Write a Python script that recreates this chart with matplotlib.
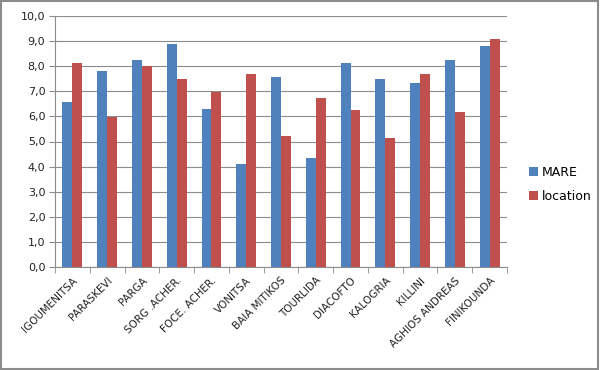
import matplotlib.pyplot as plt
import numpy as np
from matplotlib.patches import Rectangle

sites = ['IGOUMENITSA', 'PARASKEVI', 'PARGA', 'SORG .ACHER.', 'FOCE. ACHER.',
         'VONITSA', 'BAIA MITIKOS', 'TOURLIDA', 'DIACOFTO', 'KALOGRIA',
         'KILLINI', 'AGHIOS ANDREAS', 'FINIKOUNDA']
mare = [6.58, 7.79, 8.24, 8.88, 6.28, 4.11, 7.57, 4.36, 8.14, 7.49, 7.35, 8.24, 8.80]
location = [8.11, 5.98, 7.99, 7.49, 6.99, 7.67, 5.20, 6.74, 6.24, 5.12, 7.67, 6.18, 9.07]

fig = plt.figure(figsize=(6, 3.7), dpi=100)
ax = fig.add_axes([55/600, 1 - 267/370, (507-55)/600, (267-16)/370])

x = np.arange(len(sites))
w = 0.285
ax.bar(x - w/2, mare, w, color='#4F81BD', label='MARE', zorder=3)
ax.bar(x + w/2, location, w, color='#C0504D', label='location', zorder=3)

ax.set_xlim(-0.5, len(sites) - 0.5)
ax.set_ylim(0, 10)
ax.set_yticks(np.arange(0, 10.01, 1))
ax.set_yticklabels([f'{v:.1f}'.replace('.', ',') for v in np.arange(0, 10.01, 1)],
                   fontsize=8, color='#222222')
ax.yaxis.grid(True, color='#8c8c8c', linewidth=0.8, zorder=0)

ax.set_xticks(x)
ax.set_xticklabels(sites, rotation=45, ha='right', rotation_mode='anchor',
                   fontsize=7.5, color='#222222')
ax.tick_params(axis='x', length=0, pad=6)
ax.set_xticks(np.arange(-0.5, len(sites), 1), minor=True)
ax.tick_params(axis='x', which='minor', length=4, color='#8c8c8c')
ax.tick_params(axis='y', length=4, color='#8c8c8c', pad=3)

for s in ['top', 'right']:
    ax.spines[s].set_visible(False)
for s in ['left', 'bottom']:
    ax.spines[s].set_color('#8c8c8c')

ax.legend(loc='center left', bbox_to_anchor=(1.035, 0.33), frameon=False,
          fontsize=9, handlelength=0.7, handleheight=0.7, handletextpad=0.3,
          labelspacing=0.9, borderpad=0)

fig.patches.append(Rectangle((0.002, 0.003), 0.995, 0.993, transform=fig.transFigure,
                             fill=False, edgecolor='#8c8c8c', linewidth=1.5))

fig.savefig('out.png', dpi=100)
